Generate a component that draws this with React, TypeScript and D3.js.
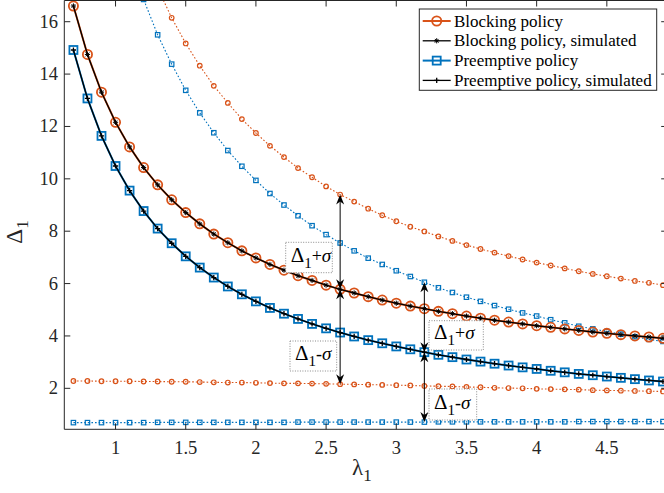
import React from 'react';
import * as d3 from 'd3';

const lambdas = [0.7, 0.8, 0.9, 1.0, 1.1, 1.2, 1.3, 1.4, 1.5, 1.6, 1.7, 1.8, 1.9, 2.0, 2.1, 2.2, 2.3, 2.4, 2.5, 2.6, 2.7, 2.8, 2.9, 3.0, 3.1, 3.2, 3.3, 3.4, 3.5, 3.6, 3.7, 3.8, 3.9, 4.0, 4.1, 4.2, 4.3, 4.4, 4.5, 4.6, 4.7, 4.8, 4.9];

const blocking = [16.60, 14.75, 13.31, 12.16, 11.22, 10.43, 9.77, 9.20, 8.71, 8.28, 7.89, 7.56, 7.25, 6.98, 6.73, 6.51, 6.30, 6.12, 5.94, 5.78, 5.64, 5.50, 5.37, 5.25, 5.14, 5.04, 4.94, 4.85, 4.76, 4.68, 4.60, 4.53, 4.46, 4.39, 4.33, 4.27, 4.21, 4.15, 4.10, 4.05, 4.00, 3.96, 3.91];
const blockingSim = [16.60, 14.75, 13.31, 12.16, 11.22, 10.43, 9.77, 9.20, 8.71, 8.28, 7.89, 7.56, 7.25, 6.98, 6.73, 6.51, 6.30, 6.12, 5.94, 5.78, 5.64, 5.50, 5.37, 5.25, 5.14, 5.04, 4.94, 4.85, 4.76, 4.68, 4.60, 4.53, 4.46, 4.39, 4.33, 4.27, 4.21, 4.15, 4.10, 4.05, 4.00, 3.96, 3.91];
const preemptive = [14.92, 13.07, 11.64, 10.49, 9.55, 8.77, 8.10, 7.54, 7.04, 6.61, 6.23, 5.89, 5.59, 5.32, 5.07, 4.85, 4.65, 4.46, 4.29, 4.13, 3.98, 3.84, 3.72, 3.60, 3.49, 3.38, 3.28, 3.19, 3.10, 3.02, 2.94, 2.87, 2.80, 2.74, 2.67, 2.61, 2.55, 2.50, 2.45, 2.40, 2.35, 2.30, 2.26];
const preemptiveSim = [14.92, 13.07, 11.64, 10.49, 9.55, 8.77, 8.10, 7.54, 7.04, 6.61, 6.23, 5.89, 5.59, 5.32, 5.07, 4.85, 4.65, 4.46, 4.29, 4.13, 3.98, 3.84, 3.72, 3.60, 3.49, 3.38, 3.28, 3.19, 3.10, 3.02, 2.94, 2.87, 2.80, 2.74, 2.67, 2.61, 2.55, 2.50, 2.45, 2.40, 2.35, 2.30, 2.26];
const blockingUpper = [30.92, 27.22, 24.35, 22.05, 20.17, 18.60, 17.28, 16.15, 15.17, 14.32, 13.55, 12.90, 12.28, 11.75, 11.26, 10.83, 10.41, 10.06, 9.71, 9.40, 9.13, 8.86, 8.61, 8.38, 8.17, 7.99, 7.80, 7.63, 7.47, 7.32, 7.18, 7.05, 6.92, 6.80, 6.69, 6.58, 6.47, 6.37, 6.28, 6.19, 6.10, 6.03, 5.94];
const blockingLower = [2.28, 2.28, 2.27, 2.27, 2.27, 2.26, 2.26, 2.25, 2.25, 2.24, 2.23, 2.22, 2.22, 2.21, 2.20, 2.19, 2.19, 2.18, 2.17, 2.16, 2.15, 2.14, 2.13, 2.12, 2.11, 2.09, 2.08, 2.07, 2.05, 2.04, 2.02, 2.01, 2.00, 1.98, 1.97, 1.96, 1.95, 1.93, 1.92, 1.91, 1.90, 1.89, 1.88];
const preemptiveUpper = [29.15, 25.45, 22.59, 20.29, 18.41, 16.85, 15.50, 14.38, 13.38, 12.52, 11.76, 11.08, 10.48, 9.94, 9.44, 9.00, 8.59, 8.21, 7.87, 7.55, 7.25, 6.97, 6.73, 6.49, 6.27, 6.05, 5.84, 5.66, 5.48, 5.32, 5.16, 5.02, 4.88, 4.76, 4.62, 4.50, 4.37, 4.27, 4.17, 4.07, 3.97, 3.87, 3.79];
const preemptiveLower = [0.69, 0.69, 0.69, 0.69, 0.69, 0.69, 0.70, 0.70, 0.70, 0.70, 0.70, 0.70, 0.70, 0.70, 0.70, 0.70, 0.71, 0.71, 0.71, 0.71, 0.71, 0.71, 0.71, 0.71, 0.71, 0.71, 0.72, 0.72, 0.72, 0.72, 0.72, 0.72, 0.72, 0.72, 0.72, 0.72, 0.73, 0.73, 0.73, 0.73, 0.73, 0.73, 0.73];

const xTicks = [1, 1.5, 2, 2.5, 3, 3.5, 4, 4.5];
const yTicks = [2, 4, 6, 8, 10, 12, 14, 16];
const legendLabels = ['Blocking policy', 'Blocking policy, simulated', 'Preemptive policy', 'Preemptive policy, simulated'];
const annotationIdx = [19, 25]; // lambda 2.6 (blocking), lambda 3.2 (preemptive)

const ORANGE = '#D95319';
const BLUE = '#0072BD';
const AX = '#262626';
const FONT = 'Liberation Serif';
const TS = { fontFamily: FONT };

const W = 664, H = 493;
const PL = 64.3, PR = 667.2, PT = 0.5, PB = 429.3;

const x = d3.scaleLinear().domain([0.635, 4.93]).range([PL, PR]);
const y = d3.scaleLinear().domain([0.435, 16.81]).range([PB, PT]);

const line = (vals: number[]) =>
  d3.line<number>().x((_, i) => x(lambdas[i])).y((v) => y(v))(vals) || '';

const Star = ({ cx, cy, s }: { cx: number; cy: number; s: number }) => {
  const d = s * 0.72;
  return (
    <path
      d={`M${cx - s},${cy}L${cx + s},${cy}M${cx},${cy - s}L${cx},${cy + s}M${cx - d},${cy - d}L${cx + d},${cy + d}M${cx - d},${cy + d}L${cx + d},${cy - d}`}
      stroke="#000" strokeWidth={1} fill="none"
    />
  );
};
const Plus = ({ cx, cy, s }: { cx: number; cy: number; s: number }) => (
  <path d={`M${cx - s},${cy}L${cx + s},${cy}M${cx},${cy - s}L${cx},${cy + s}`} stroke="#000" strokeWidth={1.3} fill="none" />
);

const Arrow = ({ xp, y1, y2 }: { xp: number; y1: number; y2: number }) => {
  const head = (ty: number, dir: number) =>
    `M${xp},${ty}L${xp - 4},${ty + dir * 10}L${xp},${ty + dir * 7}L${xp + 4},${ty + dir * 10}Z`;
  return (
    <g>
      <line x1={xp} x2={xp} y1={y1 + 5} y2={y2 - 5} stroke="#000" strokeWidth={1} />
      <path d={head(y1, 1)} fill="#000" />
      <path d={head(y2, -1)} fill="#000" />
    </g>
  );
};

const Label = ({ x0, y0, w, h, sign }: { x0: number; y0: number; w: number; h: number; sign: string }) => (
  <g>
    <rect x={x0} y={y0} width={w} height={h} fill="#fff" stroke="#8a8a8a" strokeWidth={1} strokeDasharray="1 1.5" />
    <text x={x0 + 5} y={y0 + h / 2 + 4} style={TS} fontSize={21} fill="#000">
      <tspan>Δ</tspan>
      <tspan fontSize={15} dy={6}>1</tspan>
      <tspan dy={-6} fontSize={18}>{sign}</tspan>
      <tspan fontStyle="italic" fontSize={19}>σ</tspan>
    </text>
  </g>
);

export default function App() {
  const iB = annotationIdx[0];
  const iP = annotationIdx[1];
  const xB = x(lambdas[iB]);
  const xP = x(lambdas[iP]);
  return (
    <div style={{ position: 'fixed', left: 0, top: 0 }}>
      <svg width={W} height={H} style={{ display: 'block', background: '#fff', fontFamily: FONT }}>
        <defs>
          <clipPath id="plot">
            <rect x={PL} y={PT} width={PR - PL} height={PB - PT} />
          </clipPath>
        </defs>
        <rect x={0} y={0} width={W} height={H} fill="#fff" />
        <g clipPath="url(#plot)">
          {[
            { v: blockingUpper, c: ORANGE, m: 'o' },
            { v: blockingLower, c: ORANGE, m: 'o' },
            { v: preemptiveUpper, c: BLUE, m: 's' },
            { v: preemptiveLower, c: BLUE, m: 's' },
          ].map((s, k) => (
            <g key={k}>
              <path d={line(s.v)} fill="none" stroke={s.c} strokeWidth={1.1} strokeDasharray="1.6 2" />
              {s.v.map((v, i) =>
                s.m === 'o' ? (
                  <circle key={i} cx={x(lambdas[i])} cy={y(v)} r={2.3} fill="none" stroke={s.c} strokeWidth={1.2} />
                ) : (
                  <rect key={i} x={x(lambdas[i]) - 2.2} y={y(v) - 2.2} width={4.4} height={4.4} fill="none" stroke={s.c} strokeWidth={1.2} />
                )
              )}
            </g>
          ))}
          <path d={line(blocking)} fill="none" stroke={ORANGE} strokeWidth={2} />
          {blocking.map((v, i) => (
            <circle key={i} cx={x(lambdas[i])} cy={y(v)} r={4.6} fill="none" stroke={ORANGE} strokeWidth={1.8} />
          ))}
          <path d={line(preemptive)} fill="none" stroke={BLUE} strokeWidth={2} />
          {preemptive.map((v, i) => (
            <rect key={i} x={x(lambdas[i]) - 4} y={y(v) - 4} width={8} height={8} fill="none" stroke={BLUE} strokeWidth={1.8} />
          ))}
          <path d={line(blockingSim)} fill="none" stroke="#000" strokeWidth={1.3} />
          {blockingSim.map((v, i) => (
            <Star key={i} cx={x(lambdas[i])} cy={y(v)} s={2.6} />
          ))}
          <path d={line(preemptiveSim)} fill="none" stroke="#000" strokeWidth={1.3} />
          {preemptiveSim.map((v, i) => (
            <Plus key={i} cx={x(lambdas[i])} cy={y(v)} s={2.6} />
          ))}
        </g>

        <Arrow xp={xB} y1={y(blockingUpper[iB])} y2={y(blocking[iB])} />
        <Arrow xp={xB} y1={y(blocking[iB])} y2={y(blockingLower[iB])} />
        <Arrow xp={xP} y1={y(preemptiveUpper[iP])} y2={y(preemptive[iP])} />
        <Arrow xp={xP} y1={y(preemptive[iP])} y2={y(preemptiveLower[iP])} />
        <Label x0={285.7} y0={242.3} w={46.6} h={30.4} sign="+" />
        <Label x0={290} y0={341} w={46.7} h={30} sign="-" />
        <Label x0={429} y0={320.7} w={54.3} h={29.3} sign="+" />
        <Label x0={429} y0={389} w={47.7} h={31} sign="-" />

        <line x1={PL} x2={PL} y1={PT} y2={PB} stroke={AX} strokeWidth={1} />
        <line x1={PL} x2={PR} y1={PB} y2={PB} stroke={AX} strokeWidth={1} />
        <line x1={PL} x2={PR} y1={PT} y2={PT} stroke={AX} strokeWidth={1} />
        <line x1={PR} x2={PR} y1={PT} y2={PB} stroke={AX} strokeWidth={1} />
        {xTicks.map((t) => (
          <g key={t}>
            <line x1={x(t)} x2={x(t)} y1={PB} y2={PB - 6} stroke={AX} strokeWidth={1} />
            <line x1={x(t)} x2={x(t)} y1={PT} y2={PT + 6} stroke={AX} strokeWidth={1} />
            <text x={x(t)} y={453.5} textAnchor="middle" style={TS} fontSize={18.5} fill={AX}>
              {t}
            </text>
          </g>
        ))}
        {yTicks.map((t) => (
          <g key={t}>
            <line x1={PL} x2={PL + 6} y1={y(t)} y2={y(t)} stroke={AX} strokeWidth={1} />
            <line x1={PR} x2={PR - 6} y1={y(t)} y2={y(t)} stroke={AX} strokeWidth={1} />
            <text x={58} y={y(t) + 6} textAnchor="end" style={TS} fontSize={18.5} fill={AX}>
              {t}
            </text>
          </g>
        ))}
        <text x={352} y={475} style={TS} fontSize={23} fill={AX}>
          <tspan>λ</tspan>
          <tspan fontSize={17} dy={6}>1</tspan>
        </text>
        <text transform="translate(22,232) rotate(-90)" textAnchor="middle" style={TS} fontSize={23} fill={AX}>
          <tspan>Δ</tspan>
          <tspan fontSize={17} dy={6}>1</tspan>
        </text>

        <g>
          <rect x={419.3} y={9} width={237.4} height={81.3} fill="#fff" stroke={AX} strokeWidth={1} />
          {legendLabels.map((lab, k) => {
            const cy = 21 + k * 19.8;
            const color = k === 0 ? ORANGE : k === 2 ? BLUE : '#000';
            return (
              <g key={k}>
                <line x1={422.7} x2={450.7} y1={cy} y2={cy} stroke={color} strokeWidth={k % 2 === 0 ? 2 : 1.3} />
                {k === 0 && <circle cx={436.7} cy={cy} r={4.6} fill="none" stroke={ORANGE} strokeWidth={1.8} />}
                {k === 1 && <Star cx={436.7} cy={cy} s={2.6} />}
                {k === 2 && <rect x={432.7} y={cy - 4} width={8} height={8} fill="none" stroke={BLUE} strokeWidth={1.8} />}
                {k === 3 && <Plus cx={436.7} cy={cy} s={2.6} />}
                <text x={454} y={cy + 5.5} style={TS} fontSize={17} fill="#000">
                  {lab}
                </text>
              </g>
            );
          })}
        </g>
      </svg>
    </div>
  );
}
